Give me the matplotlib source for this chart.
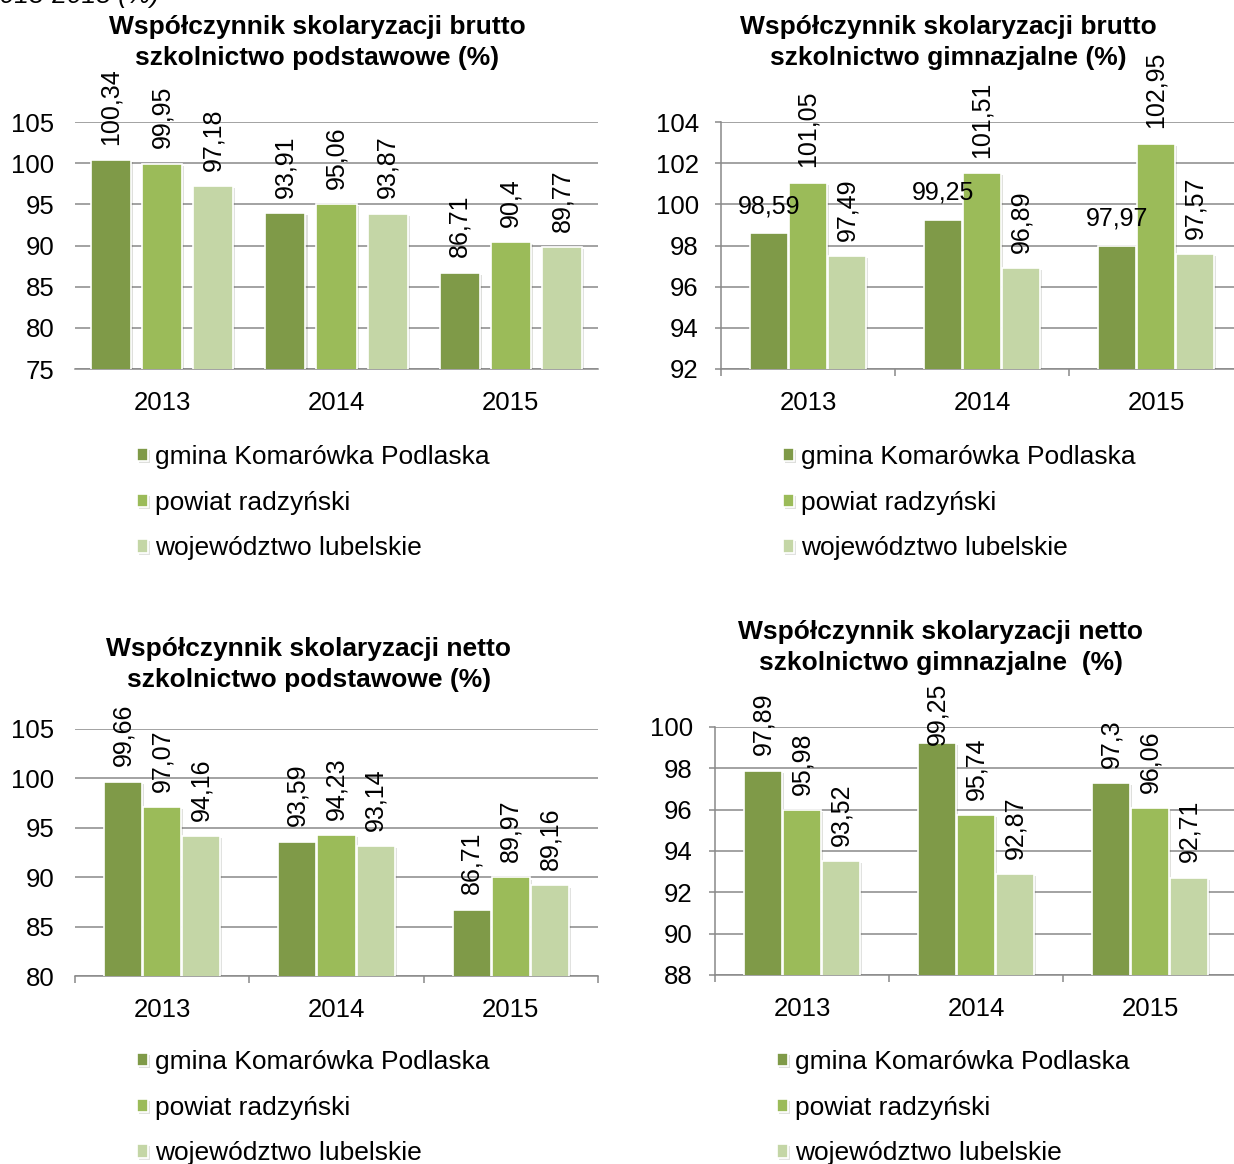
import matplotlib
matplotlib.use("Agg")
import matplotlib.pyplot as plt
from matplotlib import patheffects as pe

plt.rcParams['font.family'] = ['Liberation Sans', 'DejaVu Sans']

W, H = 1234, 1164

years = ['2013', '2014', '2015']
series_names = ['gmina Komarówka Podlaska', 'powiat radzyński', 'województwo lubelskie']
colors = ['#7F9A48', '#9BBB59', '#C4D6A6']

# brutto, szkoly podstawowe: gmina, powiat, wojewodztwo
brutto_podst_gmina = [100.34, 93.91, 86.71]
brutto_podst_powiat = [99.95, 95.06, 90.4]
brutto_podst_woj = [97.18, 93.87, 89.77]

# brutto, gimnazja
brutto_gimn_gmina = [98.59, 99.25, 97.97]
brutto_gimn_powiat = [101.05, 101.51, 102.95]
brutto_gimn_woj = [97.49, 96.89, 97.57]

# netto, szkoly podstawowe
netto_podst_gmina = [99.66, 93.59, 86.71]
netto_podst_powiat = [97.07, 94.23, 89.97]
netto_podst_woj = [94.16, 93.14, 89.16]

# netto, gimnazja
netto_gimn_gmina = [97.89, 99.25, 97.3]
netto_gimn_powiat = [95.98, 95.74, 96.06]
netto_gimn_woj = [93.52, 92.87, 92.71]

GRID = '#898989'

fig = plt.figure(figsize=(W / 100, H / 100), dpi=100)
all_labels = []


def px_axes(l, t, r, b):
    return fig.add_axes([l / W, 1 - b / H, (r - l) / W, (b - t) / H])


def panel(box, series, ylim, ystep, step, width, left_spine, cat_ticks,
          flat_first, legend_at, ceiling=None):
    ax = px_axes(*box)
    bars = []
    for k, vals in enumerate(series):
        xs = [i + (k - 1) * step for i in range(len(years))]
        b = ax.bar(xs, vals, width=width, color=colors[k], edgecolor='white',
                   linewidth=1.2, zorder=3)
        for p in b:
            p.set_path_effects([pe.SimplePatchShadow(offset=(1.5, -1.5), alpha=0.15),
                                pe.Normal()])
        rot = 0 if (flat_first and k == 0) else 90
        texts = ax.bar_label(b, labels=[f"{v:g}".replace('.', ',') for v in vals],
                             padding=11, rotation=rot, fontsize=18, clip_on=False,
                             zorder=6)
        all_labels.extend((t, ceiling) for t in texts)
        bars.append(b)

    ax.set_xlim(-0.5, len(years) - 0.5)
    ax.set_ylim(*ylim)
    ax.set_yticks(range(ylim[0], ylim[1] + 1, ystep))
    ax.yaxis.grid(True, color=GRID, linewidth=1.1)
    ax.set_axisbelow(True)

    for s in ('top', 'right'):
        ax.spines[s].set_visible(False)
    ax.spines['left'].set_visible(left_spine)
    for s in ('bottom', 'left'):
        ax.spines[s].set_color(GRID)
        ax.spines[s].set_linewidth(1.1)

    ax.set_xticks(range(len(years)))
    ax.set_xticklabels(years)
    ax.tick_params(axis='x', which='major', length=0, pad=16, labelsize=18.5)
    if cat_ticks:
        ax.set_xticks([i - 0.5 for i in range(len(years) + 1)], minor=True)
        ax.tick_params(axis='x', which='minor', length=5, color=GRID, width=1.1)
    ax.tick_params(axis='y', length=4 if left_spine else 0, color=GRID, width=1.1,
                   pad=12 if left_spine else 15, labelsize=18.5)

    ax.legend(bars, series_names, loc='upper left',
              bbox_to_anchor=(legend_at[0] / W, 1 - legend_at[1] / H),
              bbox_transform=fig.transFigure, frameon=False, fontsize=19,
              handlelength=0.4, handleheight=0.4, handletextpad=0.3,
              labelspacing=0.82, borderpad=0, borderaxespad=0)
    return ax


def title(x, y, text):
    fig.text(x / W, 1 - y / H, text, ha='center', va='center', fontsize=19,
             fontweight='bold', linespacing=1.4)


panel((75, 122, 598, 369),
      [brutto_podst_gmina, brutto_podst_powiat, brutto_podst_woj],
      (75, 105), 5, 0.293, 0.23, False, False, False, (137, 445))
panel((721, 122, 1243, 369),
      [brutto_gimn_gmina, brutto_gimn_powiat, brutto_gimn_woj],
      (92, 104), 2, 0.224, 0.218, True, True, True, (783, 445))
panel((75, 729, 598, 976),
      [netto_podst_gmina, netto_podst_powiat, netto_podst_woj],
      (80, 105), 5, 0.224, 0.218, False, True, False, (137, 1050))
panel((715, 727, 1237, 975),
      [netto_gimn_gmina, netto_gimn_powiat, netto_gimn_woj],
      (88, 100), 2, 0.224, 0.218, True, True, False, (777, 1050), ceiling=683)

title(317, 42.5, 'Współczynnik skolaryzacji brutto\nszkolnictwo podstawowe (%)')
title(948, 42.5, 'Współczynnik skolaryzacji brutto\nszkolnictwo gimnazjalne (%)')
title(309, 664.5, 'Współczynnik skolaryzacji netto\nszkolnictwo podstawowe (%)')
title(941, 647.5, 'Współczynnik skolaryzacji netto\nszkolnictwo gimnazjalne  (%)')

# header line from the page above, mostly cut off
fig.text(159 / W, 1 - 3 / H, '2013-2015 (%)', ha='right', va='baseline',
         style='italic', fontsize=19)

# keep value labels below the chart title area: push down any that stick out
fig.canvas.draw()
for t, ceiling in all_labels:
    if ceiling is None:
        continue
    top = t.get_window_extent().y1
    limit = H - ceiling
    if top > limit:
        dx, dy = t.xyann
        t.xyann = (dx, dy - (top - limit) * 72 / fig.dpi)

fig.savefig('out.png', dpi=100)
